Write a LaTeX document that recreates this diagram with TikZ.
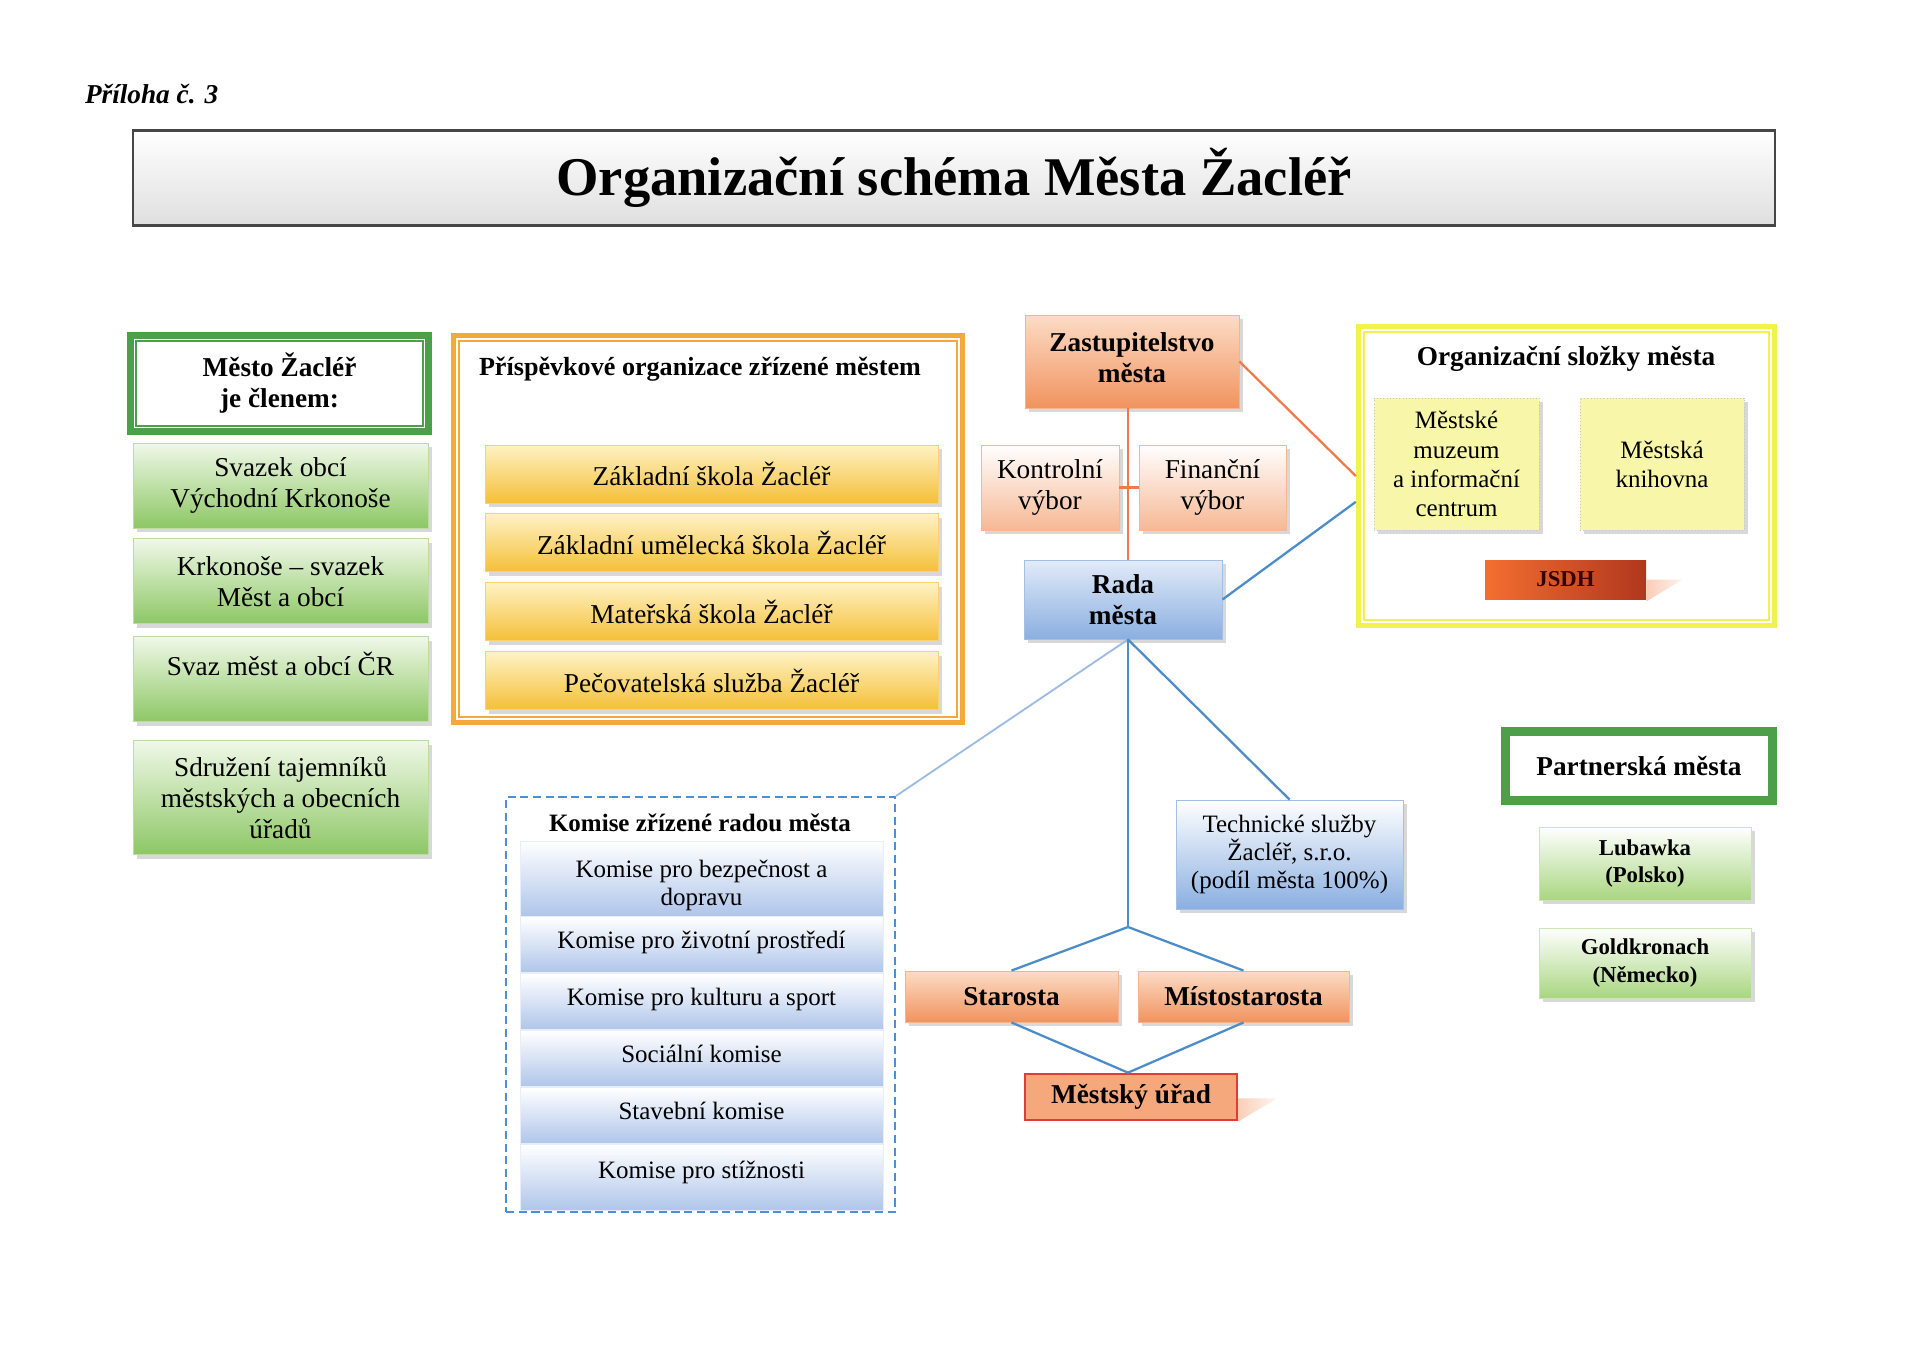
\documentclass[tikz,border=0pt]{standalone}
\usepackage{fontspec}
\setmainfont{Liberation Serif}
\usetikzlibrary{shadows, positioning}
\definecolor{FrameGreen}{HTML}{4E9F4A}
\definecolor{LeafGreen}{HTML}{8DC765}
\definecolor{PaleGreen}{HTML}{F0F8E8}
\definecolor{CityGreen}{HTML}{A9D680}
\definecolor{Gold}{HTML}{F5BF38}
\definecolor{PaleGold}{HTML}{FEF2C4}
\definecolor{FrameOrange}{HTML}{F6A93B}
\definecolor{Salmon}{HTML}{F1935E}
\definecolor{PaleSalmon}{HTML}{FCDCC6}
\definecolor{Peach}{HTML}{F6B894}
\definecolor{SkyBlue}{HTML}{8AAFE1}
\definecolor{PaleBlue}{HTML}{E2EBF8}
\definecolor{RowBlue}{HTML}{AFC5EA}
\definecolor{LineBlue}{HTML}{4C8DC9}
\definecolor{SoftBlue}{HTML}{9CBBE3}
\definecolor{DashBlue}{HTML}{4A90D9}
\definecolor{LineOrange}{HTML}{F07A4A}
\definecolor{FrameYellow}{HTML}{F2F24C}
\definecolor{Lemon}{HTML}{F8F6A8}
\definecolor{FireRed}{HTML}{B0371F}
\definecolor{FireOrange}{HTML}{F36E30}
\definecolor{UradRed}{HTML}{E33B35}
\definecolor{UradFill}{HTML}{F5A87C}
\newcommand{\pxu}{0.15469mm}

\tikzset{
  boxshadow/.style={drop shadow={shadow xshift=0.6mm, shadow yshift=-0.6mm, opacity=0.3}},
  headtext/.style={font=\fontsize{12}{13.6}\selectfont\bfseries},
  titlebox/.style={rectangle, draw=gray!55!black, line width=1.2pt, top color=white, bottom color=gray!25,
    font=\fontsize{24}{28}\selectfont\bfseries},
  headbox/.style={rectangle, draw=FrameGreen, line width=3.2pt, fill=white, align=center, headtext},
  greenbox/.style={rectangle, top color=PaleGreen, bottom color=LeafGreen, draw=LeafGreen!60,
    align=center, minimum width=295*\pxu, minimum height=85*\pxu, font=\fontsize{12}{13.8}\selectfont, boxshadow},
  goldframe/.style={rectangle, draw=FrameOrange, line width=2.4pt, fill=white},
  goldbar/.style={rectangle, top color=PaleGold, bottom color=Gold, draw=Gold!70,
    minimum width=453*\pxu, minimum height=58*\pxu, boxshadow},
  salmonbox/.style={rectangle, top color=PaleSalmon, bottom color=Salmon, draw=Salmon!70,
    align=center, boxshadow},
  peachbox/.style={rectangle, top color=white, bottom color=Peach, draw=Peach,
    align=center, boxshadow},
  bluebox/.style={rectangle, top color=PaleBlue, bottom color=SkyBlue, draw=SkyBlue!80,
    align=center, boxshadow},
  komiseframe/.style={rectangle, draw=DashBlue, line width=1pt, dash pattern=on 3.6pt off 2pt},
  komisebox/.style={rectangle, top color=white, bottom color=RowBlue, draw=white!70!RowBlue,
    minimum width=363*\pxu, minimum height=56*\pxu, align=center, font=\fontsize{11}{12.4}\selectfont},
  komiseline/.style={komisebox, text height=7.5pt, text depth=4.5pt},
  lemonframe/.style={rectangle, draw=FrameYellow, line width=2.4pt, fill=white},
  lemonbox/.style={rectangle, fill=Lemon, draw=gray!45, densely dotted, align=center,
    font=\fontsize{11}{12.8}\selectfont, boxshadow},
  citybox/.style={rectangle, top color=white, bottom color=CityGreen, draw=CityGreen!60,
    align=center, font=\fontsize{10}{12}\selectfont\bfseries, minimum width=212*\pxu, boxshadow},
  orangeline/.style={LineOrange, line width=1pt},
  blueline/.style={LineBlue, line width=1pt},
  softline/.style={SoftBlue, line width=0.8pt}
}

\begin{document}
\begin{tikzpicture}[x=0.15469mm, y=-0.15469mm, font=\fontsize{12}{13.6}\selectfont]
\useasboundingbox (0,0) rectangle (1920,1358);
\fill[white] (0,0) rectangle (1920,1358);

% heading
\node[anchor=west, font=\fontsize{12}{14}\selectfont\bfseries\itshape] (priloha) at (77,94) {Příloha č. 3};
\node[titlebox, minimum width=1642*\pxu, minimum height=95*\pxu] (title) at (954,178) {Organizační schéma Města Žacléř};

% member of
\node[headbox, minimum width=298*\pxu, minimum height=96*\pxu] (clen) at (279.5,383.5) {Město Žacléř\\je členem:};
\draw[FrameGreen, line width=0.8pt] ([shift={(9,9)}]clen.north west) rectangle ([shift={(-9,-9)}]clen.south east);
\node[greenbox] (svazek) at (280.5,485.5) {Svazek obcí\\Východní Krkonoše};
\node[greenbox, below=1.55mm of svazek] (krkonose) {Krkonoše – svazek\\Měst a obcí};
\node[greenbox, below=1.86mm of krkonose] (svaz) {Svaz měst a obcí ČR\\\mbox{}};
\node[greenbox, minimum height=114*\pxu, below=2.78mm of svaz] (tajemnici) {Sdružení tajemníků\\městských a obecních\\úřadů};

% contributory organisations
\node[goldframe, minimum width=509*\pxu, minimum height=387*\pxu] (prisp) at (708,529) {};
\draw[FrameOrange, line width=0.7pt] ([shift={(8,8)}]prisp.north west) rectangle ([shift={(-8,-8)}]prisp.south east);
\node[anchor=west, font=\fontsize{11.5}{13}\selectfont\bfseries] (prispT) at (471,369) {Příspěvkové organizace zřízené městem};
\node[goldbar] (zs) at (711.5,474) {Základní škola Žacléř};
\node[goldbar, below=1.55mm of zs] (zus) {Základní umělecká škola Žacléř};
\node[goldbar, below=1.55mm of zus] (ms) {Mateřská škola Žacléř};
\node[goldbar, below=1.55mm of ms] (ps) {Pečovatelská služba Žacléř};

% council
\coordinate (split) at (1128,927);
\node[salmonbox, headtext, minimum width=214*\pxu, minimum height=93*\pxu, text depth=3.5pt] (zast) at (1132,361.5) {Zastupitelstvo\\města};
\node[peachbox, minimum width=138*\pxu, minimum height=85*\pxu] (kontrol) at (1050,487.5) {Kontrolní\\výbor};
\node[peachbox, minimum width=147*\pxu, minimum height=85*\pxu] (financ) at (1212.5,487.5) {Finanční\\výbor};
\node[bluebox, headtext, minimum width=198*\pxu, minimum height=79*\pxu] (rada) at (1123,599.5) {Rada\\města};

% organisational units
\node[lemonframe, minimum width=416*\pxu, minimum height=299*\pxu] (slozky) at (1566.5,476) {};
\draw[FrameYellow, line width=0.7pt] ([shift={(8,8)}]slozky.north west) rectangle ([shift={(-8,-8)}]slozky.south east);
\node[headtext] (slozkyT) at (1566,359) {Organizační složky města};
\node[lemonbox, minimum width=165*\pxu, minimum height=132*\pxu] (muzeum) at (1456.5,464) {Městské\\muzeum\\a informační\\centrum};
\node[lemonbox, minimum width=164*\pxu, minimum height=132*\pxu] (knihovna) at (1662,464) {Městská\\knihovna};
\node[rectangle, left color=FireOrange, right color=FireRed, minimum width=161*\pxu, minimum height=39*\pxu,
  text=black!80!red, font=\fontsize{10}{12}\selectfont\bfseries] (jsdh) at (1565.5,579.5) {JSDH};
\shade[left color=FireOrange!35, right color=FireOrange!8] (jsdh.east) -- ++(36,0) -- ([yshift=-0.3mm]jsdh.south east) -- cycle;

% partner towns
\node[headbox, minimum width=269*\pxu, minimum height=71*\pxu] (partner) at (1639,766) {Partnerská města};
\draw[FrameGreen, line width=0.8pt] ([shift={(8,8)}]partner.north west) rectangle ([shift={(-8,-8)}]partner.south east);
\node[citybox, minimum height=73*\pxu] (lubawka) at (1645,863.5) {Lubawka\\(Polsko)};
\node[citybox, minimum height=70*\pxu] (goldkr) at (1645,963) {Goldkronach\\(Německo)};

% commissions
\node[komiseframe, minimum width=389*\pxu, minimum height=415*\pxu] (komise) at (700.5,1004.5) {};
\node[font=\fontsize{11}{13}\selectfont\bfseries] (komiseT) at (700,823) {Komise zřízené radou města};
\node[komisebox, minimum height=75*\pxu, inner ysep=1pt] (k1) at (701.5,878.5) {\rule{0pt}{14pt}Komise pro bezpečnost a\\dopravu};
\node[komiseline, below=0pt of k1] (k2) {Komise pro životní prostředí};
\node[komiseline, below=0pt of k2] (k3) {Komise pro kulturu a sport};
\node[komiseline, below=0pt of k3] (k4) {Sociální komise};
\node[komiseline, below=0pt of k4] (k5) {Stavební komise};
\node[komiseline, minimum height=66*\pxu, text depth=7pt, below=0pt of k5] (k6) {Komise pro stížnosti};

% executive
\node[bluebox, top color=white, font=\fontsize{11}{12.4}\selectfont, minimum width=227*\pxu, minimum height=109*\pxu] (techn) at (1289.5,854.5)
  {Technické služby\\Žacléř, s.r.o.\\(podíl města 100\%)};
\node[salmonbox, headtext, minimum width=213*\pxu, minimum height=51*\pxu] (staro) at (1011.5,996.5) {Starosta};
\node[salmonbox, headtext, minimum width=211*\pxu, minimum height=51*\pxu] (misto) at (1243.5,996.5) {Místostarosta};
\node[rectangle, fill=UradFill, draw=UradRed, line width=1.2pt, headtext, minimum width=212*\pxu, minimum height=46*\pxu] (urad) at (1131,1097) {Městský úřad};
\shade[left color=UradFill!55, right color=UradFill!10] ([yshift=-0.2mm]urad.east) -- ++(39,0) -- (urad.south east) -- cycle;

% connectors
\draw[orangeline] (zast.south -| split) -- (rada.north -| split);
\draw[orangeline] (kontrol.east) -- (financ.west);
\draw[orangeline] (zast.east) -- (slozky.west);
\draw[blueline] (rada.east) -- ([yshift=-4mm]slozky.west);
\draw[softline] (rada.south -| split) -- (komise.north east);
\draw[blueline] (rada.south -| split) -- (techn.north);
\draw[blueline] (rada.south -| split) -- (split);
\draw[blueline] (split) -- (staro.north);
\draw[blueline] (split) -- (misto.north);
\draw[blueline] (staro.south) -- (urad.north -| split);
\draw[blueline] (misto.south) -- (urad.north -| split);
\end{tikzpicture}
\end{document}
